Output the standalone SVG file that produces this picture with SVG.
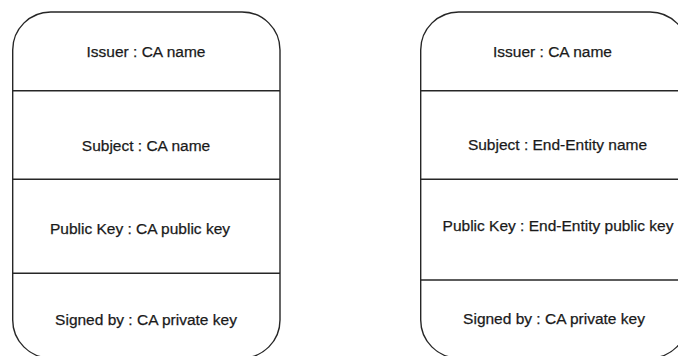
<svg xmlns="http://www.w3.org/2000/svg" width="678" height="356" viewBox="0 0 678 356">
  <style>
    .card { fill: #ffffff; stroke: #262626; stroke-width: 1.4; }
    .sep { stroke: #262626; stroke-width: 1.4; }
    .lbl { font-family: "Liberation Sans", Arial, Helvetica, sans-serif; font-size: 15.5px; fill: #1a1a1a; stroke: #1a1a1a; stroke-width: 0.25; text-anchor: middle; }
  </style>
  <rect width="678" height="356" fill="#ffffff"/>

  <!-- CA certificate -->
  <g id="ca-certificate">
    <rect class="card" x="12.7" y="12" width="267.3" height="346" rx="38" ry="38"/>
    <line class="sep" x1="12.7" y1="90.7" x2="280" y2="90.7"/>
    <line class="sep" x1="12.7" y1="179.3" x2="280" y2="179.3"/>
    <line class="sep" x1="12.7" y1="273.3" x2="280" y2="273.3"/>
    <text class="lbl" x="146" y="57">Issuer : CA name</text>
    <text class="lbl" x="146" y="150.7">Subject : CA name</text>
    <text class="lbl" x="140" y="234.3">Public Key : CA public key</text>
    <text class="lbl" x="146" y="325">Signed by : CA private key</text>
  </g>

  <!-- End-entity certificate -->
  <g id="end-entity-certificate">
    <rect class="card" x="420.7" y="12" width="267.3" height="346" rx="38" ry="38"/>
    <line class="sep" x1="420.7" y1="90.7" x2="688" y2="90.7"/>
    <line class="sep" x1="420.7" y1="179.3" x2="688" y2="179.3"/>
    <line class="sep" x1="420.7" y1="280" x2="688" y2="280"/>
    <text class="lbl" x="552.5" y="57">Issuer : CA name</text>
    <text class="lbl" x="557.5" y="150">Subject : End-Entity name</text>
    <text class="lbl" x="558" y="231">Public Key : End-Entity public key</text>
    <text class="lbl" x="554" y="324">Signed by : CA private key</text>
  </g>

  <!-- no connectors between the two certificates -->
  <g id="connectors"/>
</svg>
